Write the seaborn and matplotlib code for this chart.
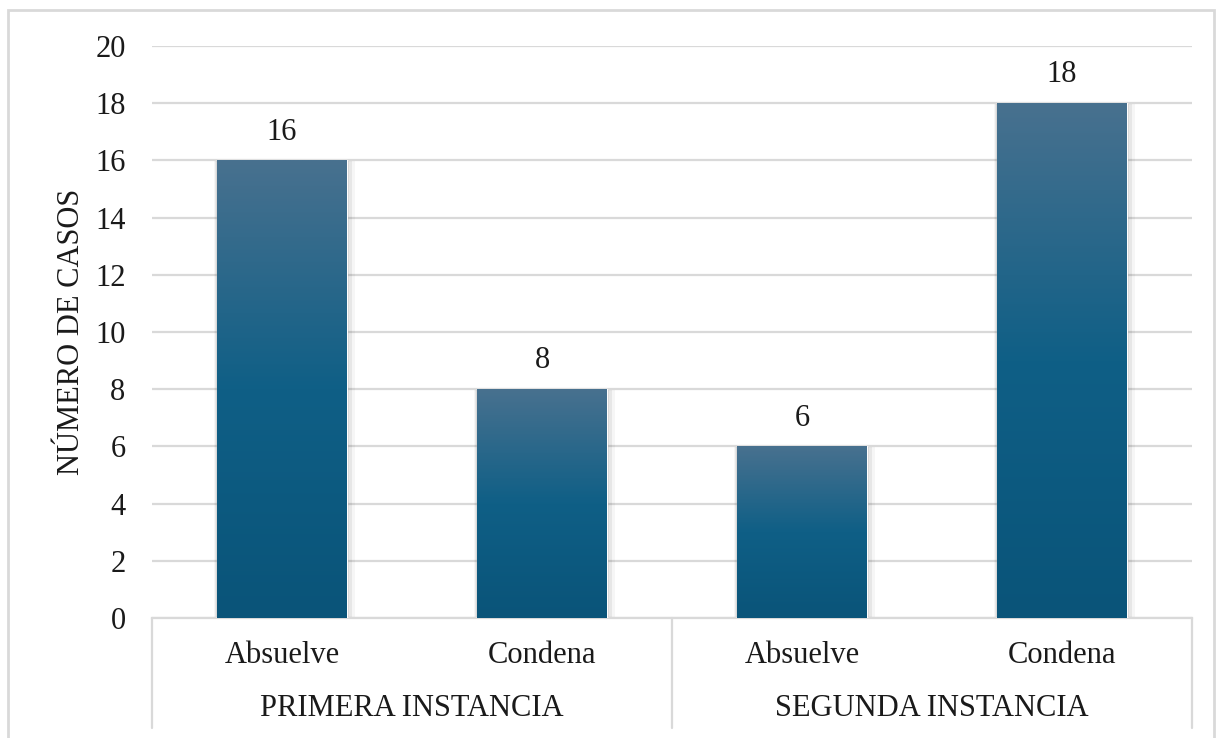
import numpy as np
import pandas as pd
import seaborn as sns
import matplotlib.pyplot as plt
from matplotlib.colors import LinearSegmentedColormap
from matplotlib.patches import Rectangle
from matplotlib.lines import Line2D

# data
categories = ["Absuelve", "Condena", "Absuelve", "Condena"]
groups = ["PRIMERA INSTANCIA", "SEGUNDA INSTANCIA"]
casos = [16, 8, 6, 18]
y_ticks = [0, 2, 4, 6, 8, 10, 12, 14, 16, 18, 20]

sns.set_theme(style="white")
plt.rcParams['font.family'] = ['Liberation Serif', 'DejaVu Serif']

FS = 22
TXT = "#1a1a1a"
W, H = 1221, 738
fig = plt.figure(figsize=(W / 100, H / 100), dpi=100)
ax = fig.add_axes([152 / W, (H - 618) / H, 1040 / W, 572 / H])

df = pd.DataFrame({"pos": list(range(len(casos))), "casos": casos})
sns.barplot(data=df, x="pos", y="casos", ax=ax, width=0.5, color="#0b5478",
            native_scale=True, zorder=3)

ax.set_xlim(-0.5, len(casos) - 0.5)
ax.set_ylim(0, 20)
ax.set_yticks(y_ticks)
ax.tick_params(axis="y", labelsize=FS, length=0, pad=19, colors=TXT)
ax.set_xticks([])
ax.set_xlabel("")
ax.set_ylabel("NÚMERO DE CASOS", fontsize=FS, color=TXT, va="center")
ax.yaxis.set_label_coords(-0.077, 0.5)
ax.grid(axis="y", color="#d9d9d9", linewidth=1.6, zorder=0)
for s in ["left", "right", "top"]:
    ax.spines[s].set_visible(False)
ax.spines["bottom"].set_color("#d9d9d9")
ax.spines["bottom"].set_linewidth(1.6)

# gradient fill + soft shadow for every bar
cmap = LinearSegmentedColormap.from_list("grad", ["#0a5479", "#0f5f86", "#48718f"])
grad = np.linspace(0, 1, 256).reshape(-1, 1)
for p in list(ax.patches):
    x0, w, h = p.get_x(), p.get_width(), p.get_height()
    for k, a in zip([0.01, 0.02, 0.035], [0.10, 0.06, 0.035]):
        ax.add_patch(Rectangle((x0 - k * 0.3, 0), w + k * 1.2, h - 0.03, color="black",
                               alpha=a, lw=0, zorder=2))
    im = ax.imshow(grad, extent=[x0, x0 + w, 0, h], origin="lower", aspect="auto",
                   cmap=cmap, zorder=4)
    im.set_clip_path(p)

ax.bar_label(ax.containers[0], labels=[str(v) for v in casos], padding=10,
             fontsize=FS, color=TXT)

# category labels and group box under the axis
for i, c in enumerate(categories):
    ax.text(i, -1.3, c, ha="center", va="center", fontsize=FS, color=TXT,
            clip_on=False)
n_per = len(categories) // len(groups)
for g, name in enumerate(groups):
    mid = g * n_per + (n_per - 1) / 2
    ax.text(mid, -3.15, name, ha="center", va="center", fontsize=FS, color=TXT,
            clip_on=False)
for xb in [-0.5, 1.5, 3.5]:
    ax.add_line(Line2D([xb, xb], [0, -3.85], color="#d9d9d9", lw=1.6, clip_on=False))

# outer chart frame
fig.add_artist(Rectangle((8 / W, -0.05), 1206 / W, (H - 10) / H + 0.05,
                         transform=fig.transFigure, fill=False,
                         edgecolor="#d9d9d9", lw=2))

fig.savefig("out.png", dpi=100)
